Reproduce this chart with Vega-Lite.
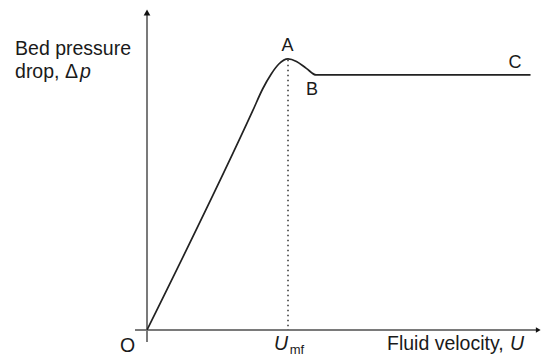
{
  "$schema": "https://vega.github.io/schema/vega-lite/v6.json",
  "width": 542,
  "height": 356,
  "autosize": "none",
  "padding": 0,
  "background": "white",
  "config": {"view": {"stroke": null}, "font": "Liberation Sans"},
  "encoding": {
    "x": {"field": "u", "type": "quantitative", "scale": {"domain": [-1.0426, 2.8014], "nice": false, "zero": false}, "axis": null},
    "y": {"field": "p", "type": "quantitative", "scale": {"domain": [-0.102, 1.294], "nice": false, "zero": false}, "axis": null}
  },
  "layer": [
    {
      "data": {"values": [
        {"axis": "y", "u": 0, "p": -0.047}, {"axis": "y", "u": 0, "p": 1.24},
        {"axis": "x", "u": -0.085, "p": 0}, {"axis": "x", "u": 2.77, "p": 0}
      ]},
      "mark": {"type": "line", "color": "#7a7a7a", "strokeWidth": 2},
      "encoding": {"detail": {"field": "axis"}}
    },
    {
      "data": {"values": [{"u": 0, "p": 1.245}]},
      "mark": {"type": "point", "shape": "triangle-up", "filled": true, "color": "#111", "size": 45, "opacity": 1}
    },
    {
      "data": {"values": [{"u": 2.775, "p": 0}]},
      "mark": {"type": "point", "shape": "triangle-right", "filled": true, "color": "#111", "size": 30, "opacity": 1}
    },
    {
      "data": {"values": [{"u": 1, "p": 1.06}, {"u": 1, "p": 0}]},
      "mark": {"type": "line", "color": "#333", "strokeWidth": 1.5, "strokeDash": [1.5, 3.5]}
    },
    {
      "data": {"values": [
        {"u": 0, "p": 0}, {"u": 0.75, "p": 0.86}, {"u": 0.82, "p": 0.945},
        {"u": 0.88, "p": 1.003}, {"u": 0.935, "p": 1.043}, {"u": 1.0, "p": 1.063},
        {"u": 1.06, "p": 1.053}, {"u": 1.13, "p": 1.026}, {"u": 1.2, "p": 1.0},
        {"u": 2.72, "p": 1.0}
      ]},
      "mark": {"type": "line", "color": "#222", "strokeWidth": 1.7, "interpolate": "monotone"}
    },
    {
      "data": {"values": [
        {"u": -0.936, "p": 1.078, "label": "Bed pressure"},
        {"u": -0.936, "p": 0.988, "label": "drop, Δ"},
        {"u": -0.191, "p": -0.086, "label": "O"},
        {"u": 1.702, "p": -0.078, "label": "Fluid velocity,"}
      ]},
      "mark": {"type": "text", "align": "left", "baseline": "alphabetic", "fontSize": 19.5, "color": "#1a1a1a"},
      "encoding": {"text": {"field": "label"}}
    },
    {
      "data": {"values": [
        {"u": -0.475, "p": 0.988, "label": "p"},
        {"u": 2.575, "p": -0.078, "label": "U"},
        {"u": 0.9, "p": -0.078, "label": "U"}
      ]},
      "mark": {"type": "text", "align": "left", "baseline": "alphabetic", "fontSize": 19.5, "fontStyle": "italic", "color": "#1a1a1a"},
      "encoding": {"text": {"field": "label"}}
    },
    {
      "data": {"values": [
        {"u": 0.996, "p": 1.094, "label": "A"},
        {"u": 1.17, "p": 0.922, "label": "B"},
        {"u": 2.61, "p": 1.027, "label": "C"}
      ]},
      "mark": {"type": "text", "align": "center", "baseline": "alphabetic", "fontSize": 18, "color": "#1a1a1a"},
      "encoding": {"text": {"field": "label"}}
    },
    {
      "data": {"values": [{"u": 1.012, "p": -0.094, "label": "mf"}]},
      "mark": {"type": "text", "align": "left", "baseline": "alphabetic", "fontSize": 13, "color": "#1a1a1a"},
      "encoding": {"text": {"field": "label"}}
    }
  ]
}
